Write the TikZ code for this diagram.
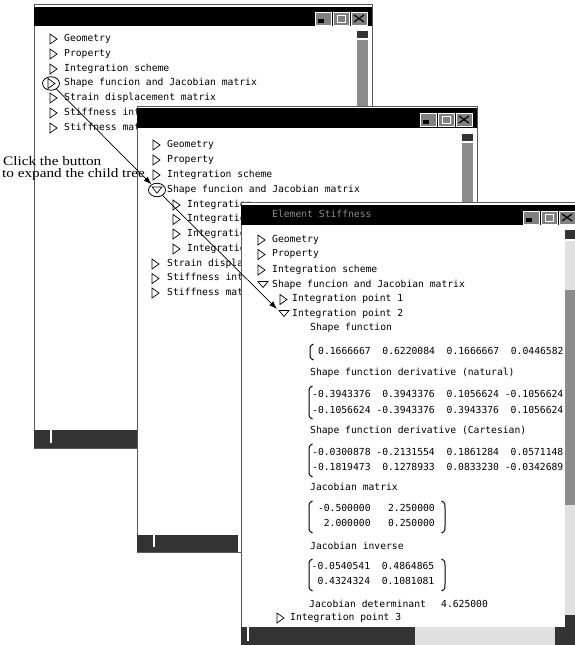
\documentclass[tikz,border=0pt]{standalone}
\usepackage{fontspec}
\newfontfamily\uifont{DejaVu Sans Mono}
\newfontfamily\annfont{Liberation Serif}
\usetikzlibrary{arrows.meta,shapes.geometric}
\newcommand\mytriR[2]{\draw[tri] (#1,#2-5) -- (#1+7,#2) -- (#1,#2+5) -- cycle;}
\newcommand\mytriD[2]{\draw[tri] (#1-5,#2-3) -- (#1+5,#2-3) -- (#1,#2+3) -- cycle;}
\newcommand\mybtns[2]{%
  \draw[btn] (#1,#2) rectangle (#1+16,#2+13);
  \fill[black] (#1+3,#2+7) rectangle (#1+9,#2+11);
  \draw[btn] (#1+18,#2) rectangle (#1+34,#2+13);
  \draw[white, line width=0.8pt] (#1+22,#2+3) rectangle (#1+30,#2+10);
  \draw[btn] (#1+36,#2) rectangle (#1+52,#2+13);
  \draw[black, line width=1.2pt] (#1+39,#2+3) -- (#1+49,#2+10) (#1+39,#2+10) -- (#1+49,#2+3);}
\newcommand\mybrL[3]{\draw[brk] (#1+3.5,#2) .. controls (#1,#2+2) .. (#1,#2+7) -- (#1,#3-7) .. controls (#1,#3-2) .. (#1+3.5,#3);}
\newcommand\mybrR[3]{\draw[brk] (#1-3.5,#2) .. controls (#1,#2+2) .. (#1,#2+7) -- (#1,#3-7) .. controls (#1,#3-2) .. (#1-3.5,#3);}
\begin{document}
\begin{tikzpicture}[x=1pt,y=-1pt,
  win/.style={draw=black!65, line width=0.7pt, fill=white},
  btn/.style={fill=black!50, draw=white, line width=0.7pt},
  lbl/.style={font=\uifont\fontsize{9.7}{11}\selectfont, inner sep=0pt, anchor=west, text height=6.5pt, text depth=1.8pt},
  ttl/.style={lbl, text=black!45},
  tri/.style={draw=black, line width=0.7pt, line join=miter, fill=white},
  darkfill/.style={fill=black!80},
  midfill/.style={fill=black!45},
  lightfill/.style={fill=black!12},
  brk/.style={draw=black, line width=1pt},
  ring/.style={ellipse, draw=black, line width=0.8pt, inner sep=0pt, minimum width=17pt, minimum height=13.5pt},
  conn/.style={draw=black, line width=0.7pt, -{Latex[length=8pt,width=5.5pt]}},
  ann/.style={font=\annfont\fontsize{13}{14}\selectfont, inner sep=0pt, anchor=base west},
]
\path[use as bounding box, fill=white] (0,0) rectangle (575,645);

% ---------------- window 1
\draw[win] (34,4) rectangle (372,448);
\fill[black] (34,7) rectangle (372,26);
\mybtns{315}{12}
\fill[darkfill] (357,31) rectangle (368,38);
\fill[midfill] (357,40) rectangle (368,107);
\fill[darkfill] (34,430) rectangle (137,448);
\draw[white, line width=1.2pt] (51,428) -- (51,443);
\mytriR{50}{39}
\node[lbl] (a1) at (64,39) {Geometry};
\mytriR{50}{54}
\node[lbl] (a2) at (64,54) {Property};
\mytriR{50}{69}
\node[lbl] (a3) at (64,69) {Integration scheme};
\mytriR{48}{83.5}
\node[lbl] (a4) at (64,83.5) {Shape funcion and Jacobian matrix};
\node[ring] (c1) at (51,83.5) {};
\mytriR{50}{98}
\node[lbl] (a5) at (64,98) {Strain displacement matrix};
\mytriR{50}{113}
\node[lbl] (a6) at (64,113) {Stiffness int};
\mytriR{50}{128}
\node[lbl] (a7) at (64,128) {Stiffness mat};

% ---------------- window 2
\draw[win] (137,106) rectangle (477,552);
\fill[black] (137,108) rectangle (477,128);
\mybtns{420}{113}
\fill[darkfill] (462,134) rectangle (473,141);
\fill[midfill] (462,143) rectangle (473,203);
\fill[darkfill] (137,535) rectangle (238,552);
\draw[white, line width=1.2pt] (154,533) -- (154,547);
\mytriR{153}{145}
\node[lbl] (b1) at (167,145) {Geometry};
\mytriR{153}{160}
\node[lbl] (b2) at (167,160) {Property};
\mytriR{153}{175}
\node[lbl] (b3) at (167,175) {Integration scheme};
\mytriD{157}{190}
\node[lbl] (b4) at (167,190) {Shape funcion and Jacobian matrix};
\node[ring] (c2) at (157,190) {};
\mytriR{173}{205}
\node[lbl] (b5) at (187,205) {Integration};
\mytriR{173}{219.5}
\node[lbl] (b6) at (187,219.5) {Integration};
\mytriR{173}{234}
\node[lbl] (b7) at (187,234) {Integration};
\mytriR{173}{249}
\node[lbl] (b8) at (187,249) {Integration};
\mytriR{152}{264}
\node[lbl] (b9) at (167,264) {Strain displa};
\mytriR{152}{278.5}
\node[lbl] (b10) at (167,278.5) {Stiffness int};
\mytriR{152}{293}
\node[lbl] (b11) at (167,293) {Stiffness mat};

% ---------------- window 3
\draw[win] (241,202) rectangle (585,655);
\fill[black] (241,205) rectangle (575,225);
\node[ttl] (ttl3) at (272,215) {Element Stiffness};
\mybtns{523}{211}
\node[lbl] (c3a) at (272,240) {Geometry};
\node[lbl] (c3b) at (272,254.5) {Property};
\node[lbl] (c3c) at (272,270) {Integration scheme};
\node[lbl] (c3d) at (272,285) {Shape funcion and Jacobian matrix};
\node[lbl] (c3e) at (292,299.5) {Integration point 1};
\node[lbl] (c3f) at (292,314) {Integration point 2};
\node[lbl] (c3g) at (310,328.5) {Shape function};
\node[lbl] (c3h) at (318,352) {0.1666667~~0.6220084~~0.1666667~~0.0446582};
\node[lbl] (c3i) at (310,373.5) {Shape function derivative (natural)};
\node[lbl] (c3j) at (312,395) {-0.3943376~~0.3943376~~0.1056624~-0.1056624};
\node[lbl] (c3k) at (312,411.5) {-0.1056624~-0.3943376~~0.3943376~~0.1056624};
\node[lbl] (c3l) at (310,431.5) {Shape function derivative (Cartesian)};
\node[lbl] (c3m) at (312,453) {-0.0300878~-0.2131554~~0.1861284~~0.0571148};
\node[lbl] (c3n) at (312,468) {-0.1819473~~0.1278933~~0.0833230~-0.0342689};
\node[lbl] (c3o) at (310,488.5) {Jacobian matrix};
\node[lbl] (c3p) at (312,509) {~-0.500000~~~2.250000};
\node[lbl] (c3q) at (312,524.5) {~~2.000000~~~0.250000};
\node[lbl] (c3r) at (310,547) {Jacobian inverse};
\node[lbl] (c3s) at (311.5,567.5) {-0.0540541~~0.4864865};
\node[lbl] (c3t) at (311.5,582.5) {~0.4324324~~0.1081081};
\node[lbl] (c3u) at (309,605) {Jacobian determinant};
\node[lbl] (c3v) at (441,605) {4.625000};
\node[lbl] (c3w) at (290,618) {Integration point 3};
\mytriR{258}{240}
\mytriR{258}{254.5}
\mytriR{258}{270}
\mytriD{263}{284.5}
\mytriR{280}{299.5}
\mytriD{284}{313.5}
\mytriR{277}{618}
\mybrL{310}{344}{360}
\mybrL{309}{386}{419}
\mybrL{309}{444}{477}
\mybrL{309}{501}{533}
\mybrR{445}{501}{533}
\mybrL{309}{559}{591}
\mybrR{445}{559}{591}
\fill[darkfill] (565,230) rectangle (575,239);
\fill[lightfill] (565,241) rectangle (575,290);
\fill[midfill] (565,290) rectangle (575,505);
\fill[lightfill] (565,505) rectangle (575,615);
\fill[darkfill] (565,615) rectangle (575,627);
\fill[darkfill] (241,627) rectangle (415,645);
\fill[lightfill] (415,627) rectangle (555,645);
\fill[darkfill] (555,627) rectangle (575,645);
\draw[white, line width=1.2pt] (248,627) -- (248,641);

% ---------------- annotation and connectors
\node[ann] (n1) at (3,165) {\scalebox{1.17}[1]{Click the button}};
\node[ann] (n2) at (2,177.5) {\scalebox{1.17}[1]{to expand the child tree}};
\coordinate (t3) at (277,309);
\draw[conn] (c1) -- (c2);
\draw[conn] (c2) -- (t3);
\end{tikzpicture}
\end{document}
